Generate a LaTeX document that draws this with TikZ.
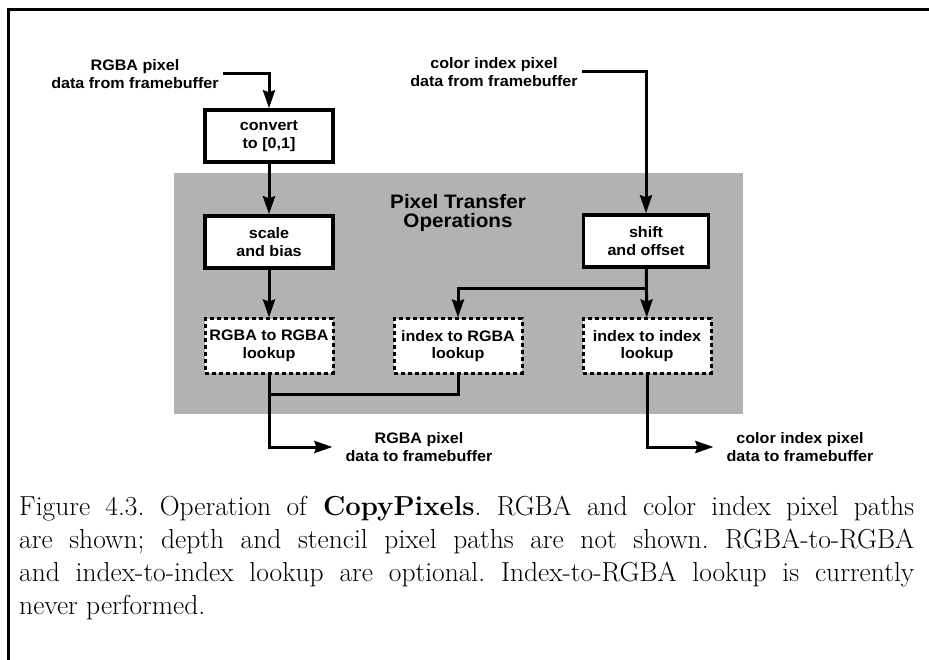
\documentclass[tikz,border=0pt]{standalone}
\usepackage{fontspec}
\newfontfamily\diagfont[FakeStretch=1.06]{Liberation Sans}
\usetikzlibrary{
  arrows.meta,
  calc
}

\begin{document}
\begin{tikzpicture}[
  x=1pt, y=-1pt,
  font=\diagfont\bfseries\fontsize{15.2}{17.5}\selectfont,
  >={Stealth[length=18pt,width=12pt,inset=2pt]},
  box/.style={
    rectangle,
    draw,
    line width=3.5pt,
    fill=white,
    minimum width=128pt,
    minimum height=52pt,
    inner sep=0pt,
    align=center
  },
  lookup/.style={
    box,
    line width=3pt,
    dash pattern=on 4pt off 3pt,
    minimum height=54pt
  },
  iotext/.style={
    align=center,
    inner sep=4pt
  },
  flow/.style={
    ->,
    line width=3pt
  },
  wire/.style={
    line width=3pt
  }
]

\useasboundingbox (0,0) rectangle (929,660);

% ------------------------------------------------------------------
% Frame + shaded operations area
% ------------------------------------------------------------------
\draw[line width=3pt] (929,9.5) -- (8.5,9.5) -- (8.5,660);
\fill[black!30] (174,173) rectangle (743,414);

\node[font=\diagfont\bfseries\fontsize{19.5}{18.5}\selectfont,align=center] (title)
  at (458,213) {Pixel Transfer\\Operations};

% ------------------------------------------------------------------
% RGBA path
% ------------------------------------------------------------------
\node[iotext] (in1) at (135,74) {RGBA pixel\\data from framebuffer};
\node[box] (conv) at (269,136) {convert\\to [0,1]};
\node[box] (scale) at (269,242) {scale\\and bias};
\node[lookup] (rtor) at (269,346) {RGBA to RGBA\\lookup};

\draw[flow] (in1.east) -| (conv.north);
\draw[flow] (conv) -- (scale);
\draw[flow] (scale) -- (rtor);

% ------------------------------------------------------------------
% Color index path
% ------------------------------------------------------------------
\node[iotext] (in2) at (494,72) {color index pixel\\data from framebuffer};
\node[box, minimum width=125pt] (shift) at (646,241) {shift\\and offset};
\node[lookup] (itor) at (458,346) {index to RGBA\\lookup};
\node[lookup] (itoi) at (647,346) {index to index\\lookup};

\draw[flow] (in2.east) -| (shift.north);
\draw[flow] (shift) -- (itoi);

\coordinate (split) at ($(shift.south)!0.41!(itoi.north)$);
\draw[flow] (split) -| (itor.north);

% ------------------------------------------------------------------
% Outputs
% ------------------------------------------------------------------
\node[iotext] (out1) at (419,447) {RGBA pixel\\data to framebuffer};
\node[iotext] (out2) at (800,447) {color index pixel\\data to framebuffer};

\draw[wire] (itor.south) -- ++(0,20) -| (rtor.south);
\draw[flow, shorten >=9pt] (rtor.south) |- (out1.west);
\draw[flow, shorten >=9pt] (itoi.south) |- (out2.west);

% ------------------------------------------------------------------
% Caption
% ------------------------------------------------------------------
\node[anchor=base west, inner sep=0pt, text width=895pt, align=justify,
      font=\rmfamily\mdseries\fontsize{27.5}{33}\selectfont\frenchspacing] (caption) at (19,515)
  {Figure 4.3. Operation of \textbf{CopyPixels}. RGBA and color index pixel paths\linebreak
   are shown; depth and stencil pixel paths are not shown. RGBA-to-RGBA\linebreak
   and index-to-index lookup are optional. Index-to-RGBA lookup is currently\linebreak
   never performed.};

\end{tikzpicture}
\end{document}
